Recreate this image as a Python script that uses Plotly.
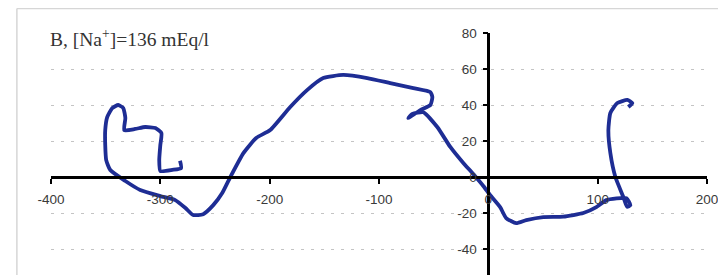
import plotly.graph_objects as go

# Trajectory (x, y)
traj_x = [-282, -281, -289, -300, -301, -300, -299, -304.5, -313.8, -323, -333, -332, -333.9,
          -338.5, -344, -348.6, -350.4, -350.4, -349.5, -345.8, -332, -318.4, -300, -286.4,
          -277, -270, -260.8, -251.6, -243.4, -236, -224, -212.3, -199.5, -181.2, -165.8,
          -151, -132.7, -110.7, -89.7, -68.6, -53, -51.2, -53, -62.2, -73.2, -69.5, -59.5,
          -46.7, -34.8, -22.9, -14.6, -4.6, 1.6, 10.8, 16.3, 25.5, 34.7, 50.3, 68.6, 86.9,
          98.8, 107.9, 126.3, 129.9, 126.9, 123.5, 116.2, 111.6, 109.8, 111.6, 118, 127.1,
          131.7, 128]
traj_y = [9, 5, 4, 3.3, 9.4, 17.8, 24.4, 27.2, 27.8, 26.7, 26, 32.8, 38.3,
          40, 38.3, 33.3, 26.1, 17.8, 9.4, 3.9, -2.2, -7.2, -10.6, -12.8,
          -17.2, -21.1, -20.6, -15.6, -8.9, 0, 13.3, 21.7, 26.1, 38.9, 48.3,
          55, 56.7, 55, 52.2, 49.4, 47.2, 44.4, 40, 37.2, 32.8, 35, 36,
          27.8, 16.7, 7.8, 2.2, -5, -10, -16.7, -22.8, -25.6, -23.9, -22.2, -22, -20,
          -16.7, -12.8, -11.7, -15.6, -16.5, -11.1, 0, 13.3, 26.1, 35.6, 41.1, 42.8,
          41.1, 38.9]

x_ticks = [-400, -300, -200, -100, 0, 100, 200]
y_ticks = [-40, -20, 0, 20, 40, 60, 80]
title_text = "B, [Na<sup>+</sup>]=136 mEq/l"

X_RANGE = [-400, 200]
Y_RANGE = [-54.4, 80]

fig = go.Figure()
fig.add_trace(go.Scatter(
    x=traj_x, y=traj_y, mode="lines",
    line=dict(color="#1e2d94", width=3.8, shape="spline", smoothing=0.5),
    hoverinfo="skip", showlegend=False,
))

x_pos = (0 - Y_RANGE[0]) / (Y_RANGE[1] - Y_RANGE[0])
y_pos = (0 - X_RANGE[0]) / (X_RANGE[1] - X_RANGE[0])

tick_font = dict(family="Liberation Sans, Arial, sans-serif", size=13.5, color="#3a3a3a")

fig.update_layout(
    width=718, height=267,
    margin=dict(l=43, r=19, t=25, b=0),
    paper_bgcolor="white", plot_bgcolor="white",
    showlegend=False,
    xaxis=dict(
        range=X_RANGE, anchor="free", position=x_pos,
        showline=True, linecolor="black", linewidth=2.5,
        ticks="outside", ticklen=5, tickwidth=2, tickcolor="black",
        tickvals=x_ticks, ticktext=[str(v) for v in x_ticks],
        showgrid=False, zeroline=False, tickfont=tick_font,
        ticklabelstandoff=4,
    ),
    yaxis=dict(
        range=Y_RANGE, anchor="free", position=y_pos,
        showline=True, linecolor="black", linewidth=2.5,
        ticks="outside", ticklen=5, tickwidth=2, tickcolor="black",
        tickvals=y_ticks, ticktext=[str(v) for v in y_ticks],
        showgrid=True, gridcolor="#c4c4c4", gridwidth=1, griddash="3px,7px",
        zeroline=False, tickfont=tick_font,
        ticklabelstandoff=3,
    ),
    annotations=[dict(
        text=title_text, xref="paper", yref="paper",
        x=-0.006, y=0.979, xanchor="left", yanchor="middle",
        showarrow=False, bgcolor="white", borderpad=2,
        font=dict(family="Liberation Serif, Times New Roman, serif", size=19.5, color="#333"),
    )],
    shapes=[
        dict(type="line", xref="paper", yref="paper", x0=-0.052, x1=-0.052, y0=-0.01, y1=1.101,
             line=dict(color="#d6d6d6", width=1.5)),
        dict(type="line", xref="paper", yref="paper", x0=-0.052, x1=1.04, y0=1.101, y1=1.101,
             line=dict(color="#d6d6d6", width=1.5)),
    ],
)

fig.write_html("out.html")
